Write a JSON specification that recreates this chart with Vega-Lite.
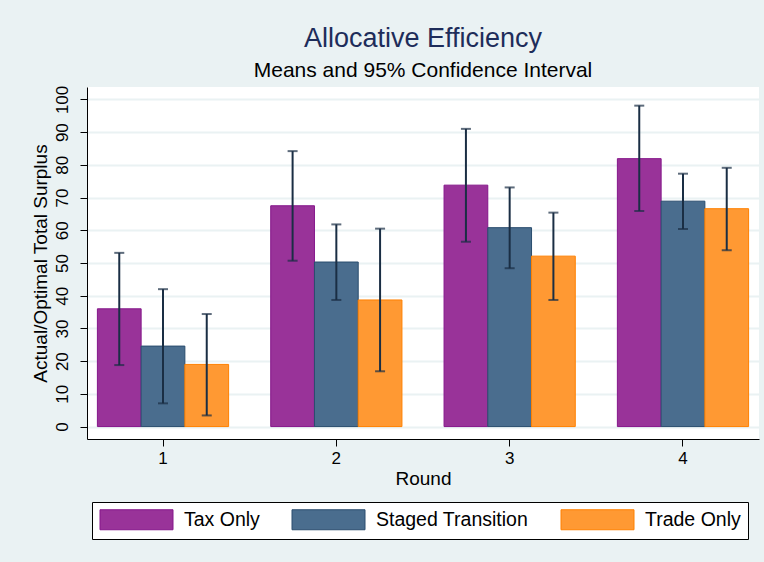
{
  "$schema": "https://vega.github.io/schema/vega-lite/v6.json",
  "width": 672,
  "height": 352,
  "autosize": {"type": "none"},
  "padding": {"left": 87, "top": 87, "right": 5, "bottom": 123},
  "background": "#EAF2F3",
  "title": {
    "text": "Allocative Efficiency",
    "subtitle": "Means and 95% Confidence Interval",
    "fontSize": 27,
    "fontWeight": "normal",
    "font": "Liberation Sans",
    "color": "#1E2D5A",
    "subtitleFont": "Liberation Sans",
    "subtitleFontSize": 21,
    "subtitleColor": "black",
    "subtitlePadding": 7,
    "offset": 3,
    "anchor": "middle",
    "frame": "group"
  },
  "data": {
    "values": [
      {"Round": "1", "Series": "Tax Only", "mean": 36.0, "lo": 18.8, "hi": 53.1},
      {"Round": "1", "Series": "Staged Transition", "mean": 24.6, "lo": 7.1, "hi": 42.0},
      {"Round": "1", "Series": "Trade Only", "mean": 19.0, "lo": 3.4, "hi": 34.4},
      {"Round": "2", "Series": "Tax Only", "mean": 67.5, "lo": 50.7, "hi": 84.2},
      {"Round": "2", "Series": "Staged Transition", "mean": 50.3, "lo": 38.7, "hi": 61.8},
      {"Round": "2", "Series": "Trade Only", "mean": 38.7, "lo": 16.9, "hi": 60.5},
      {"Round": "3", "Series": "Tax Only", "mean": 73.8, "lo": 56.5, "hi": 91.0},
      {"Round": "3", "Series": "Staged Transition", "mean": 60.8, "lo": 48.4, "hi": 73.1},
      {"Round": "3", "Series": "Trade Only", "mean": 52.1, "lo": 38.7, "hi": 65.4},
      {"Round": "4", "Series": "Tax Only", "mean": 81.9, "lo": 65.9, "hi": 98.1},
      {"Round": "4", "Series": "Staged Transition", "mean": 68.9, "lo": 60.4, "hi": 77.3},
      {"Round": "4", "Series": "Trade Only", "mean": 66.6, "lo": 53.9, "hi": 79.1}
    ]
  },
  "encoding": {
    "x": {
      "field": "Round",
      "type": "nominal",
      "scale": {"paddingInner": 0.243, "paddingOuter": 0.06},
      "axis": {
        "title": "Round",
        "labelAngle": 0,
        "labelFontSize": 17,
        "titleFontSize": 19,
        "titleFontWeight": "normal",
        "tickSize": 7,
        "labelPadding": 4,
        "titlePadding": 3,
        "grid": false
      }
    },
    "xOffset": {
      "field": "Series",
      "type": "nominal",
      "scale": {"domain": ["Tax Only", "Staged Transition", "Trade Only"], "paddingInner": 0, "paddingOuter": 0}
    }
  },
  "layer": [
    {
      "mark": {"type": "bar", "strokeWidth": 1, "fillOpacity": 1},
      "encoding": {
        "y": {
          "field": "mean",
          "type": "quantitative",
          "scale": {"domain": [-3.8, 103.8], "nice": false, "zero": false},
          "axis": {
            "title": "Actual/Optimal Total Surplus",
            "values": [0, 10, 20, 30, 40, 50, 60, 70, 80, 90, 100],
            "tickCount": 11,
            "labelAngle": -90,
            "labelOverlap": false,
            "labelFontSize": 17,
            "titleFontSize": 19,
            "titleFontWeight": "normal",
            "tickSize": 7,
            "labelPadding": 9,
            "titlePadding": 3,
            "grid": true,
            "gridColor": "#EAF2F3",
            "gridWidth": 2
          }
        },
        "y2": {"datum": 0},
        "fill": {
          "field": "Series",
          "type": "nominal",
          "scale": {"domain": ["Tax Only", "Staged Transition", "Trade Only"], "range": ["#993399", "#4A6D8E", "#FF9933"]},
          "legend": {
            "orient": "none",
            "legendX": 5,
            "legendY": 415,
            "direction": "horizontal",
            "columns": 3,
            "title": null,
            "symbolType": "M-0.95,-1L6.35,-1L6.35,1L-0.95,1Z",
            "symbolSize": 400,
            "symbolStrokeWidth": 1,
            "labelFontSize": 19.5,
            "labelOffset": 64,
            "columnPadding": 30,
            "padding": 7,
            "strokeColor": "black",
            "fillColor": "white",
            "cornerRadius": 0
          }
        },
        "stroke": {
          "field": "Series",
          "type": "nominal",
          "scale": {"domain": ["Tax Only", "Staged Transition", "Trade Only"], "range": ["#85168A", "#2A4D6E", "#FF8000"]},
          "legend": null
        }
      }
    },
    {
      "mark": {"type": "rule", "color": "#1A2E44", "strokeWidth": 2},
      "encoding": {
        "y": {"field": "lo", "type": "quantitative"},
        "y2": {"field": "hi"}
      }
    },
    {
      "mark": {"type": "tick", "color": "#1A2E44", "thickness": 2, "size": 10, "orient": "horizontal"},
      "encoding": {
        "y": {"field": "lo", "type": "quantitative"}
      }
    },
    {
      "mark": {"type": "tick", "color": "#1A2E44", "thickness": 2, "size": 10, "orient": "horizontal"},
      "encoding": {
        "y": {"field": "hi", "type": "quantitative"}
      }
    }
  ],
  "config": {
    "font": "Liberation Sans",
    "view": {"fill": "white", "stroke": null},
    "axis": {
      "labelColor": "black",
      "titleColor": "black",
      "tickColor": "black",
      "domainColor": "black",
      "labelFont": "Liberation Sans",
      "titleFont": "Liberation Sans"
    },
    "axisY": {"labelOverlap": false, "tickCount": 11},
    "legend": {"labelFont": "Liberation Sans", "labelColor": "black"}
  }
}
